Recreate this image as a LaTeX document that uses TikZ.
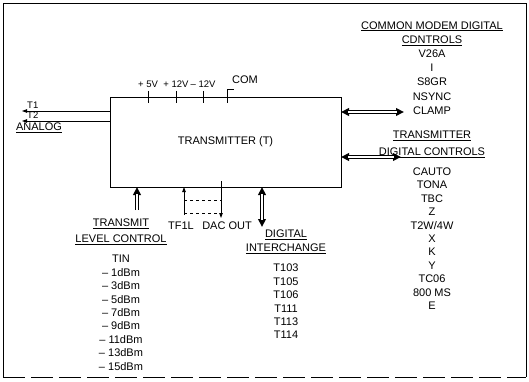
\documentclass[tikz,border=0pt]{standalone}
\usepackage{fontspec}
\setmainfont{Liberation Sans}
\usetikzlibrary{positioning, arrows.meta}

\begin{document}
\begin{tikzpicture}[
        x=1pt, y=-1pt,
        node distance=8pt and 1cm,
        box/.style={rectangle, draw, thick, minimum width=231pt, minimum height=90pt, align=center, font=\fontsize{11}{12}\selectfont},
        lbl/.style={inner sep=1pt, align=center, font=\fontsize{11}{13.4}\selectfont},
        head/.style={lbl, font=\fontsize{11}{16}\selectfont},
        small/.style={inner sep=1pt, font=\fontsize{9.5}{10}\selectfont},
        arrow/.style={-{Triangle[length=5pt, width=3.5pt]}, thick},
        bigarrow/.style={-{Triangle[length=8pt, width=7.5pt]}, line width=3.8pt,
            postaction={draw=white, line width=1.6pt, -, shorten >=7pt}},
        bigboth/.style={{Triangle[length=8pt, width=7.5pt]}-{Triangle[length=8pt, width=7.5pt]}, line width=3.8pt,
            postaction={draw=white, line width=1.6pt, -, shorten >=7pt, shorten <=7pt}},
        pin/.style={thick}
    ]

        \useasboundingbox (0,0) rectangle (529,382);

        % Frame
        \draw[thick] (3,377) -- (3,3) -- (526,3) -- (526,377);
        \draw[thick, dash pattern=on 22pt off 6pt] (3,377) -- (526,377);

        % Define nodes
        \node (tx) [box] at (225.5,142) {TRANSMITTER (T)};

        \coordinate (p5) at (148,97);
        \coordinate (p12) at (176,97);
        \coordinate (m12) at (203,97);
        \coordinate (pcom) at (227,97);

        \node (l5) [small, above=of p5] {+ 5V};
        \node (l12) [small, above=of p12] {+ 12V};
        \node (lm12) [small, above=of m12] {– 12V};
        \node (lcom) [lbl] at (245,80) {COM};

        \coordinate (t1) at (110,111);
        \coordinate (t1e) at (22,111);
        \coordinate (t2) at (110,121);
        \coordinate (t2e) at (22,121);
        \node (lt1) [small, anchor=south west] at (26,110) {T1};
        \node (lt2) [small, anchor=south west] at (26,120) {T2};
        \node (analog) [lbl] at (39,128) {\underline{ANALOG}};

        \coordinate (tl) at (137,187);
        \coordinate (tlb) at (137,210);
        \node (tlh) [head] at (121,232) {\underline{TRANSMIT}\\\underline{LEVEL CONTROL}};
        \node (tin) [lbl, below=of tlh] {TIN\\– 1dBm\\– 3dBm\\– 5dBm\\– 7dBm\\– 9dBm\\– 11dBm\\– 13dBm\\– 15dBm};

        \coordinate (tf) at (184,187);
        \coordinate (tfb) at (184,215);
        \coordinate (dac) at (221,181);
        \coordinate (dacb) at (221,218);
        \coordinate (d1) at (184,200);
        \coordinate (d2) at (221,200);
        \coordinate (d3) at (184,213);
        \coordinate (d4) at (221,213);
        \node (ltf) [lbl] at (181,226) {TF1L};
        \node (ldac) [lbl] at (227,226) {DAC OUT};

        \coordinate (di) at (262,187);
        \coordinate (dib) at (262,227);
        \node (dih) [head, font=\fontsize{11}{14}\selectfont] at (286,242) {\underline{DIGITAL}\\\underline{INTERCHANGE}};
        \node (dil) [lbl, below=of dih] {T103\\T105\\T106\\T111\\T113\\T114};

        \coordinate (r1) at (341,112);
        \coordinate (r1e) at (404,112);
        \coordinate (r2) at (341,157);
        \coordinate (r2e) at (401,157);
        \node (cmd) [lbl, font=\fontsize{11}{14.2}\selectfont] at (432,68) {\underline{COMMON MODEM DIGITAL}\\\underline{CDNTROLS}\\V26A\\I\\S8GR\\NSYNC\\CLAMP};
        \node (tdc) [head, font=\fontsize{11}{17}\selectfont] at (432,144) {\underline{TRANSMITTER}\\\underline{DIGITAL CONTROLS}};
        \node (tdl) [lbl, below=of tdc] {CAUTO\\TONA\\TBC\\Z\\T2W/4W\\X\\K\\Y\\TC06\\800 MS\\E};

        % Draw arrows
        \foreach \p in {p5, p12, m12}
            \draw[pin] ([yshift=6pt]\p) -- ([yshift=-6pt]\p);
        \draw[pin] ([yshift=-6pt]pcom) -- ([yshift=8pt]pcom) -- ([xshift=7pt, yshift=8pt]pcom);

        \draw[arrow] (t1) -- (t1e);
        \draw[arrow] (t2) -- (t2e);

        \draw[bigarrow] (tlb) -- (tl);
        \draw[arrow] (tfb) -- (tf);
        \draw[arrow] (dac) -- (dacb);
        \draw[dashed] (d1) -- (d2);
        \draw[dashed] (d3) -- (d4);
        \draw[bigboth] (di) -- (dib);

        \draw[bigboth] (r1) -- (r1e);
        \draw[bigboth] (r2) -- (r2e);
    \end{tikzpicture}
\end{document}
